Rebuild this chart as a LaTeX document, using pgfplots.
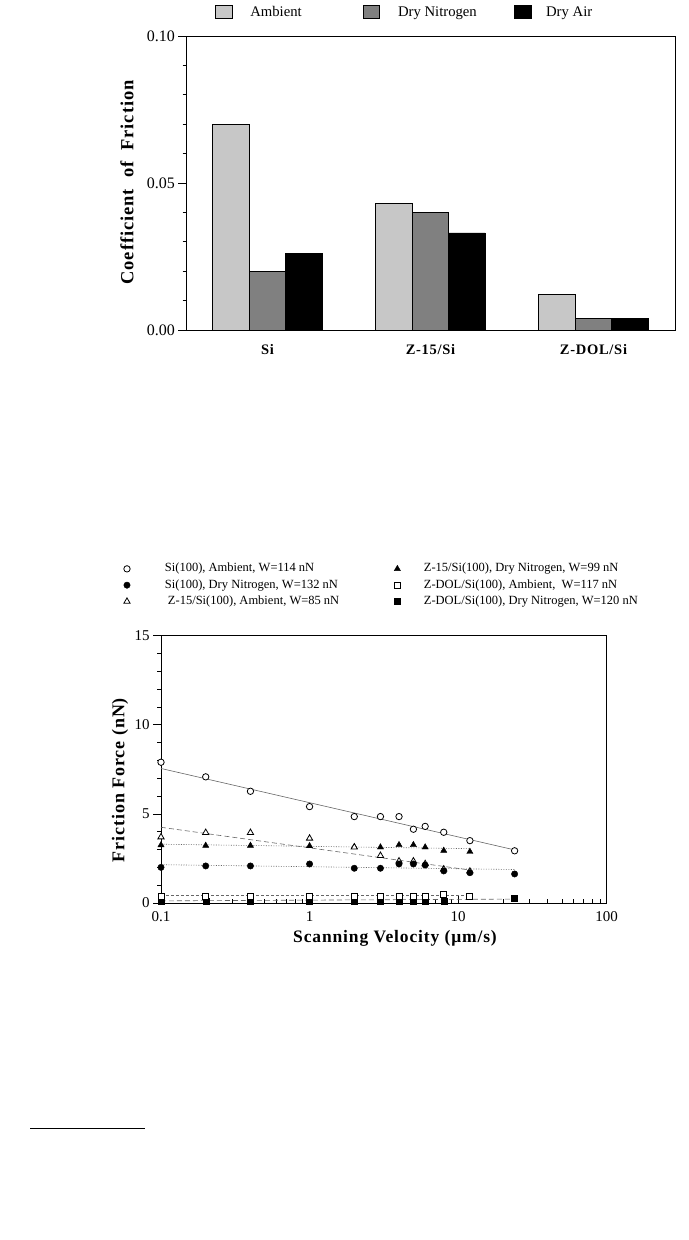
\documentclass[border=0pt]{standalone}
\usepackage{fontspec}
\setmainfont{Liberation Serif}
\newfontfamily\lsfont[LetterSpace=5]{Liberation Serif}
\usepackage{pgfplots}
\pgfplotsset{compat=1.18}
\definecolor{ambgray}{gray}{0.78}
\definecolor{nitgray}{gray}{0.50}
\definecolor{fitgray}{gray}{0.40}
\begin{document}
\begin{tikzpicture}
\useasboundingbox (0,0) rectangle (689bp,-1240bp);
% ---------------- Bar chart ----------------
\begin{axis}[
  at={(186bp,-330bp)}, anchor=south west,
  scale only axis, width=489bp, height=294bp,
  xmin=-0.5, xmax=2.5, ymin=0, ymax=0.1,
  axis line style={line width=0.9bp},
  xtick={0,1,2}, xticklabels={Si, Z-15/Si, Z-DOL/Si},
  xtick style={draw=none},
  xticklabel style={font=\fontsize{14.5bp}{16bp}\lsfont\bfseries, yshift=-3bp},
  ytick={0,0.05,0.1}, minor y tick num=4,
  scaled y ticks=false,
  tick pos=left, tick align=outside,
  major tick length=7.5bp, minor tick length=3.5bp,
  tick style={line width=0.8bp, black},
  yticklabel style={font=\fontsize{16bp}{18bp}\selectfont,
    /pgf/number format/fixed, /pgf/number format/fixed zerofill,
    /pgf/number format/precision=2},
  /pgf/number format/assume math mode=true,
  ylabel={Coefficient\ \ of\ \ Friction},
  ylabel style={font=\fontsize{18.5bp}{20bp}\lsfont\bfseries,
    at={(axis description cs:-0.1207,0.502)}, anchor=center},
  legend image code/.code={\draw[#1] (0bp,-6.5bp) rectangle (16.7bp,6.5bp);},
  legend columns=3,
  legend style={draw=none, fill=none, inner sep=0pt, outer sep=0pt,
    at={(axis description cs:0.0593,1.0816)}, anchor=west,
    font=\fontsize{14.7bp}{16bp}\selectfont,
    nodes={inner sep=0pt},
    /tikz/column 1/.style={column sep=18bp},
    /tikz/column 2/.style={column sep=61bp},
    /tikz/column 3/.style={column sep=18bp},
    /tikz/column 4/.style={column sep=37bp},
    /tikz/column 5/.style={column sep=15bp}},
]
\addlegendimage{fill=ambgray, draw=black, line width=0.6bp}
\addlegendentry{Ambient}
\addlegendimage{fill=nitgray, draw=black, line width=0.6bp}
\addlegendentry{Dry Nitrogen}
\addlegendimage{fill=black, draw=black, line width=0.6bp}
\addlegendentry{Dry Air}
\addplot[forget plot, ybar, bar width=0.2235, bar shift=-0.2235, fill=ambgray, draw=black, line width=0.9bp]
  coordinates {(0,0.070) (1,0.043) (2,0.012)};
\addplot[forget plot, ybar, bar width=0.2235, bar shift=0, fill=nitgray, draw=black, line width=0.9bp]
  coordinates {(0,0.020) (1,0.040) (2,0.004)};
\addplot[forget plot, ybar, bar width=0.2235, bar shift=0.2235, fill=black, draw=black, line width=0.9bp]
  coordinates {(0,0.026) (1,0.033) (2,0.004)};
\end{axis}
% ---------------- Friction force vs velocity ----------------
\begin{axis}[
  at={(161bp,-903bp)}, anchor=south west,
  scale only axis, width=445.7bp, height=267.3bp,
  xmode=log, xmin=0.1, xmax=100, ymin=0, ymax=15,
  axis line style={line width=0.8bp},
  xtick={0.1,1,10,100}, xticklabels={0.1,1,10,100},
  ytick={0,5,10,15}, minor y tick num=4,
  tick pos=left,
  xtick align=inside, ytick align=outside,
  major tick length=8bp, minor tick length=4bp,
  tick style={line width=0.7bp, black},
  ticklabel style={font=\fontsize{15bp}{17bp}\selectfont},
  xticklabel style={yshift=-5bp},
  /pgf/number format/assume math mode=true,
  xlabel={Scanning Velocity (μm/s)},
  xlabel style={font=\fontsize{17.5bp}{19bp}\lsfont\bfseries,
    at={(axis description cs:0.525,-0.131)}, anchor=center},
  ylabel={Friction Force (nN)},
  ylabel style={font=\fontsize{18bp}{20bp}\lsfont\bfseries,
    at={(axis description cs:-0.092,0.46)}, anchor=center},
  legend columns=2,
  legend cell align=left,
  legend style={draw=none, fill=none, inner sep=0pt, outer sep=0pt,
    at={(axis description cs:-0.0835,1.2725)}, anchor=north west,
    font=\fontsize{12.5bp}{14bp}\selectfont,
    nodes={inner sep=0pt, text height=9bp, text depth=3bp},
    row sep=4.3bp,
    /tikz/column 1/.style={column sep=34.8bp},
    /tikz/column 2/.style={column sep=55bp},
    /tikz/column 3/.style={column sep=23.4bp}},
]
% legend entries (row-wise order)
\addlegendimage{only marks, mark=*, mark size=3.2bp, mark options={fill=white, draw=black, line width=0.8bp}}
\addlegendentry{Si(100), Ambient, W=114 nN}
\addlegendimage{only marks, mark=triangle*, mark size=3.6bp, mark options={fill=black, draw=black}}
\addlegendentry{Z-15/Si(100), Dry Nitrogen, W=99 nN}
\addlegendimage{only marks, mark=*, mark size=3.2bp, mark options={fill=black, draw=black}}
\addlegendentry{Si(100), Dry Nitrogen, W=132 nN}
\addlegendimage{only marks, mark=square*, mark size=3bp, mark options={fill=white, draw=black, line width=0.8bp}}
\addlegendentry{Z-DOL/Si(100), Ambient,\ \ W=117 nN}
\addlegendimage{only marks, mark=triangle*, mark size=3.6bp, mark options={fill=white, draw=black, line width=0.8bp}}
\addlegendentry{\hspace*{3bp}Z-15/Si(100), Ambient, W=85 nN}
\addlegendimage{only marks, mark=square*, mark size=3bp, mark options={fill=black, draw=black}}
\addlegendentry{Z-DOL/Si(100), Dry Nitrogen, W=120 nN}
% fit lines
\addplot[forget plot, fitgray, line width=0.6bp] coordinates {(0.1,7.55) (24,2.98)};
\addplot[forget plot, fitgray, line width=0.6bp, dash pattern=on 5bp off 3bp] coordinates {(0.1,4.25) (12,1.85)};
\addplot[forget plot, fitgray, line width=0.6bp, dash pattern=on 1bp off 1.5bp] coordinates {(0.1,3.30) (12,3.05)};
\addplot[forget plot, fitgray, line width=0.6bp, dash pattern=on 1bp off 1.5bp] coordinates {(0.1,2.15) (24,1.88)};
\addplot[forget plot, fitgray, line width=0.6bp, dash pattern=on 3bp off 2bp] coordinates {(0.1,0.42) (12,0.42)};
\addplot[forget plot, fitgray, line width=0.6bp, dash pattern=on 5bp off 3bp] coordinates {(0.1,0.12) (24,0.22)};
% data: Z-DOL dry nitrogen
\addplot[forget plot, only marks, mark=square*, mark size=3bp, mark options={fill=black, draw=black}]
  coordinates {(0.1,0.10) (0.2,0.10) (0.4,0.10) (1,0.10) (2,0.10) (3,0.10) (4,0.10) (5,0.10) (6,0.10) (8,0.12) (24,0.28)};
% data: Z-DOL ambient
\addplot[forget plot, only marks, mark=square*, mark size=3bp, mark options={fill=white, draw=black, line width=0.8bp}]
  coordinates {(0.1,0.39) (0.2,0.39) (0.4,0.39) (1,0.39) (2,0.39) (3,0.39) (4,0.39) (5,0.39) (6,0.39) (8,0.47) (12,0.37)};
% data: Z-15 dry nitrogen
\addplot[forget plot, only marks, mark=triangle*, mark size=3.6bp, mark options={fill=black, draw=black}]
  coordinates {(0.1,3.25) (0.2,3.22) (0.4,3.22) (1,3.20) (2,3.15) (3,3.13) (4,3.26) (5,3.26) (6,3.13) (8,2.94) (12,2.88)};
% data: Z-15 ambient
\addplot[forget plot, only marks, mark=triangle*, mark size=3.6bp, mark options={fill=white, draw=black, line width=0.8bp}]
  coordinates {(0.1,3.70) (0.2,3.95) (0.4,3.95) (1,3.63) (2,3.13) (3,2.66) (4,2.35) (5,2.35) (6,2.20) (8,1.90) (12,1.78)};
% data: Si dry nitrogen
\addplot[forget plot, only marks, mark=*, mark size=3.2bp, mark options={fill=black, draw=black}]
  coordinates {(0.1,2.00) (0.2,2.08) (0.4,2.08) (1,2.19) (2,1.95) (3,1.95) (4,2.19) (5,2.19) (6,2.13) (8,1.80) (12,1.70) (24,1.63)};
% data: Si ambient
\addplot[forget plot, only marks, mark=*, mark size=3.2bp, mark options={fill=white, draw=black, line width=0.8bp}]
  coordinates {(0.1,7.90) (0.2,7.08) (0.4,6.27) (1,5.41) (2,4.85) (3,4.85) (4,4.85) (5,4.14) (6,4.30) (8,3.97) (12,3.50) (24,2.93)};
\end{axis}
\draw[line width=0.7bp] (30bp,-1128bp) -- (145bp,-1128bp);
\end{tikzpicture}
\end{document}
